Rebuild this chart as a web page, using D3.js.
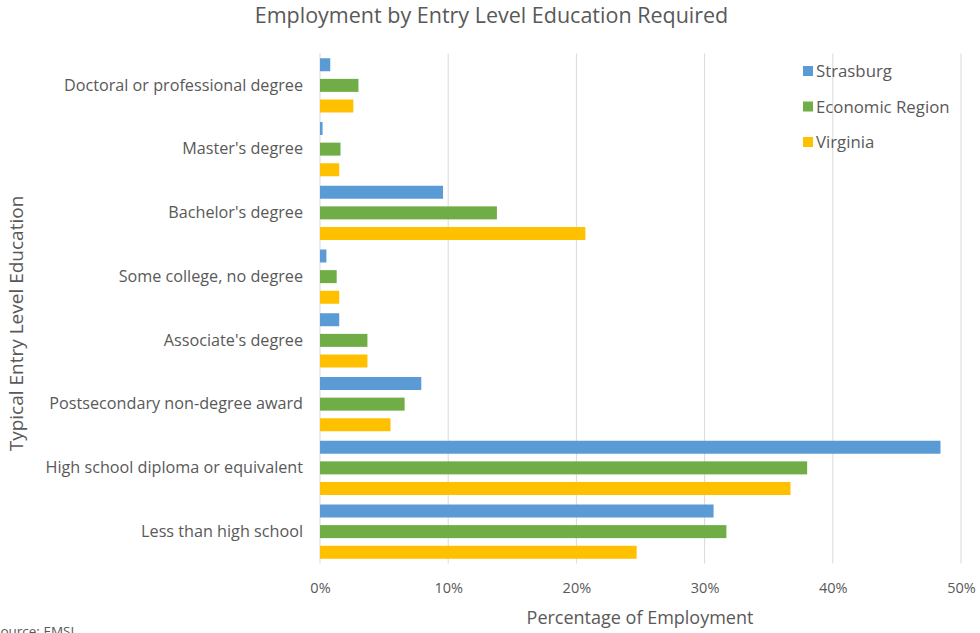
<!DOCTYPE html>
<html>
<head>
<meta charset="utf-8">
<script src="https://cdn.jsdelivr.net/npm/d3@7"></script>
<style>
  html, body { margin: 0; padding: 0; background: #fff; }
  svg { display: block; font-family: "Open Sans", "Noto Sans", sans-serif; }
</style>
</head>
<body>
<svg id="chart" width="980" height="633"></svg>
<script>
// Education levels, top to bottom
const categories = [
  "Doctoral or professional degree",
  "Master's degree",
  "Bachelor's degree",
  "Some college, no degree",
  "Associate's degree",
  "Postsecondary non-degree award",
  "High school diploma or equivalent",
  "Less than high school"
];

const seriesNames = ["Strasburg", "Economic Region", "Virginia"];
const seriesColors = ["#5B9BD5", "#70AD47", "#FFC000"];

// Share of employment (%) per education level
const strasburg      = [0.8, 0.2, 9.6, 0.5, 1.5, 7.9, 48.4, 30.7];
const economicRegion = [3.0, 1.6, 13.8, 1.3, 3.7, 6.6, 38.0, 31.7];
const virginia       = [2.6, 1.5, 20.7, 1.5, 3.7, 5.5, 36.7, 24.7];

const xTicks = [0, 10, 20, 30, 40, 50];

const seriesValues = [strasburg, economicRegion, virginia];
const rows = categories.map((c, i) => ({
  category: c,
  values: seriesNames.map((s, j) => ({ series: s, value: seriesValues[j][i], color: seriesColors[j] }))
}));

const svg = d3.select("#chart");
const plot = { left: 320, right: 961, top: 53.5, bottom: 563.5 };

const x = d3.scaleLinear().domain([0, 50]).range([plot.left, plot.right]);
const y0 = d3.scaleBand().domain(categories).range([plot.top, plot.bottom]).padding(0);
const y1 = d3.scaleBand().domain(seriesNames).range([0, y0.bandwidth()])
  .paddingInner(0.37).paddingOuter(0.23);

// Vertical gridlines
svg.append("g")
  .selectAll("line")
  .data(xTicks.slice(1))
  .join("line")
  .attr("x1", d => x(d)).attr("x2", d => x(d))
  .attr("y1", plot.top).attr("y2", plot.bottom)
  .attr("stroke", "#D9D9D9").attr("stroke-width", 1);

// Category axis line
svg.append("line")
  .attr("x1", plot.left).attr("x2", plot.left)
  .attr("y1", plot.top).attr("y2", plot.bottom)
  .attr("stroke", "#D9D9D9").attr("stroke-width", 1);

// Bars
const groups = svg.append("g")
  .selectAll("g")
  .data(rows)
  .join("g")
  .attr("transform", d => `translate(0,${y0(d.category)})`);

groups.selectAll("rect")
  .data(d => d.values)
  .join("rect")
  .attr("x", x(0))
  .attr("y", d => y1(d.series))
  .attr("width", d => x(d.value) - x(0))
  .attr("height", y1.bandwidth())
  .attr("fill", d => d.color);

// X axis
const xAxis = svg.append("g")
  .attr("transform", `translate(0,${plot.bottom})`)
  .call(d3.axisBottom(x).tickValues(xTicks).tickFormat(d => d + "%").tickSize(0).tickPadding(19));
xAxis.select(".domain").remove();
xAxis.selectAll("text")
  .attr("fill", "#595959")
  .style("font-size", "14.5px")
  .style("font-family", "\"Open Sans\", sans-serif");

// Y axis (category labels)
const yAxis = svg.append("g")
  .attr("transform", `translate(${plot.left},0)`)
  .call(d3.axisLeft(y0).tickSize(0).tickPadding(17));
yAxis.select(".domain").remove();
yAxis.selectAll("text")
  .attr("fill", "#595959")
  .style("font-size", "16.2px")
  .style("font-family", "\"Open Sans\", sans-serif");

// Title
svg.append("text")
  .attr("x", 491.5).attr("y", 22.5)
  .attr("text-anchor", "middle")
  .attr("fill", "#595959")
  .style("font-size", "21.5px")
  .text("Employment by Entry Level Education Required");

// Axis titles
svg.append("text")
  .attr("x", 640).attr("y", 624)
  .attr("text-anchor", "middle")
  .attr("fill", "#595959")
  .style("font-size", "18px")
  .text("Percentage of Employment");

svg.append("text")
  .attr("transform", "translate(23,323.5) rotate(-90)")
  .attr("text-anchor", "middle")
  .attr("fill", "#595959")
  .style("font-size", "19px")
  .text("Typical Entry Level Education");

// Legend
const legend = svg.append("g")
  .selectAll("g")
  .data(seriesNames)
  .join("g")
  .attr("transform", (d, i) => `translate(803,${71 + i * 35.5})`);
legend.append("rect")
  .attr("x", 0).attr("y", -5)
  .attr("width", 10).attr("height", 10)
  .attr("fill", (d, i) => seriesColors[i]);
legend.append("text")
  .attr("x", 13).attr("y", 6)
  .attr("fill", "#595959")
  .style("font-size", "16.8px")
  .text(d => d);

// Source note
svg.append("text")
  .attr("x", -7).attr("y", 636)
  .attr("fill", "#595959")
  .style("font-size", "13.5px")
  .text("Source: EMSI");
</script>
</body>
</html>
